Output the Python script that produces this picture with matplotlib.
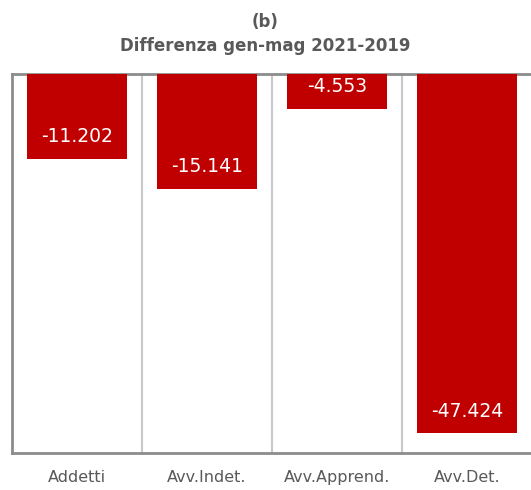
import numpy as np
import matplotlib.pyplot as plt

# data
categories = ['Addetti', 'Avv.Indet.', 'Avv.Apprend.', 'Avv.Det.']
values = [-11.202, -15.141, -4.553, -47.424]
labels = ['-11.202', '-15.141', '-4.553', '-47.424']

bar_color = '#c00000'
grey_text = '#595959'

fig = plt.figure(figsize=(5.31, 4.90), dpi=100)
ax = fig.add_axes([12/531, 1 - 453/490, 520/531, (453 - 74)/490])

x = np.arange(len(categories))
bars = ax.bar(x, values, width=0.77, color=bar_color, zorder=3)

ax.set_xlim(-0.5, len(categories) - 0.5)
ax.set_ylim(-50, 0)

# light separators between the categories
for b in x[:-1] + 0.5:
    ax.axvline(b, color='#c8c8c8', lw=1.5, zorder=1)

for rect, lab, v in zip(bars, labels, values):
    ax.annotate(lab, (rect.get_x() + rect.get_width() / 2, v),
                xytext=(0, 16), textcoords='offset points',
                ha='center', va='center', color='white', fontsize=13.5)

ax.set_xticks(x)
ax.set_xticklabels(categories, fontsize=11.5, color=grey_text)
ax.tick_params(axis='x', length=0, pad=12)
ax.set_yticks([])

for s in ['left', 'top', 'bottom']:
    ax.spines[s].set_color('#8c8c8c')
    ax.spines[s].set_linewidth(2)
ax.spines['right'].set_visible(False)

fig.text(0.5, 1 - 22/490, '(b)', ha='center', va='center',
         fontsize=12, fontweight='bold', color=grey_text)
fig.text(0.5, 1 - 46/490, 'Differenza gen-mag 2021-2019', ha='center', va='center',
         fontsize=12, fontweight='bold', color=grey_text)

fig.savefig('out.png', dpi=100)
